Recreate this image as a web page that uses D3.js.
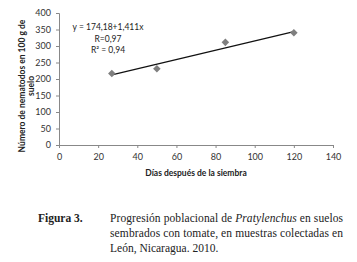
<!DOCTYPE html>
<html>
<head>
<meta charset="utf-8">
<script src="https://cdn.jsdelivr.net/npm/d3@7"></script>
<style>
  body { margin: 0; background: #fff; }
  .cap { font-family: 'Liberation Serif', 'DejaVu Serif', serif; font-size: 11.5px; fill: #222; }
</style>
</head>
<body>
<div id="chart"></div>
<script>
// data
const dias = [27, 50, 85, 120]
const nematodos = [217, 231, 311, 340]
const xTicks = [0, 20, 40, 60, 80, 100, 120, 140]
const yTicks = [0, 50, 100, 150, 200, 250, 300, 350, 400]
const intercept = 174.18
const slope = 1.411
const eqLines = ['y = 174,18+1,411x', 'R=0,97', 'R² = 0,94']

const W = 357, H = 262
const margin = {top: 13, left: 59, right: 24, bottom: 117}

const svg = d3.select('#chart').append('svg')
    .attr('width', W)
    .attr('height', H)

const x = d3.scaleLinear().domain([0, 140]).range([margin.left, W - margin.right])
const y = d3.scaleLinear().domain([0, 400]).range([H - margin.bottom, margin.top])

const font = "Lato, 'Open Sans', sans-serif"

// axes
const xAxis = svg.append('g')
    .attr('transform', `translate(0, ${y(0)})`)
    .call(d3.axisBottom(x).tickValues(xTicks).tickSize(3).tickPadding(6))
const yAxis = svg.append('g')
    .attr('transform', `translate(${x(0)}, 0)`)
    .call(d3.axisLeft(y).tickValues(yTicks).tickSize(3).tickPadding(5))

;[xAxis, yAxis].forEach(a => {
    a.select('.domain').attr('stroke', '#888')
    a.selectAll('.tick line').attr('stroke', '#888')
    a.selectAll('.tick text').attr('fill', '#333').style('font-family', font).style('font-size', '9px')
})

// regression line
const line = d3.line().x(d => x(d)).y(d => y(intercept + slope * d))
svg.append('path')
    .attr('d', line([dias[0], dias[dias.length - 1]]))
    .attr('stroke', '#111')
    .attr('stroke-width', 1.2)
    .attr('fill', 'none')

// points
svg.selectAll('.pt')
    .data(dias)
    .join('path')
    .attr('class', 'pt')
    .attr('d', d3.symbol(d3.symbolDiamond2, 36))
    .attr('transform', (d, i) => `translate(${x(d)}, ${y(nematodos[i])})`)
    .attr('fill', '#7f7f7f')

// equation
svg.append('text')
    .attr('x', 108)
    .attr('y', 30)
    .attr('text-anchor', 'middle')
    .style('font-family', font)
    .style('font-size', '8.5px')
    .attr('fill', '#222')
    .selectAll('tspan')
    .data(eqLines)
    .join('tspan')
    .attr('x', 108)
    .attr('dy', (d, i) => i === 0 ? 0 : 11.5)
    .text(d => d)

// axis titles
svg.append('text')
    .attr('x', x(70))
    .attr('y', 176)
    .attr('text-anchor', 'middle')
    .style('font-family', font)
    .style('font-size', '8.5px')
    .style('font-weight', 'bold')
    .attr('fill', '#222')
    .text('Días después de la siembra')

const yt = svg.append('text')
    .attr('transform', 'translate(25, 86) rotate(-90)')
    .attr('text-anchor', 'middle')
    .style('font-family', font)
    .style('font-size', '8.5px')
    .style('font-weight', 'bold')
    .attr('fill', '#222')
yt.append('tspan').attr('x', 0).attr('y', 0).text('Número de nematodos en 100 g de')
yt.append('tspan').attr('x', 0).attr('y', 9).text('suelo')

// caption
const cap = svg.append('g')
cap.append('text').attr('class', 'cap').attr('x', 38).attr('y', 222)
    .style('font-weight', 'bold').text('Figura 3.')
const c1 = cap.append('text').attr('class', 'cap').attr('x', 110).attr('y', 222)
    .attr('textLength', 233).attr('lengthAdjust', 'spacing')
c1.append('tspan').text('Progresión poblacional de ')
c1.append('tspan').style('font-style', 'italic').text('Pratylenchus')
c1.append('tspan').text(' en suelos')
cap.append('text').attr('class', 'cap').attr('x', 110).attr('y', 237)
    .attr('textLength', 233).attr('lengthAdjust', 'spacing')
    .text('sembrados con tomate, en muestras colectadas en')
cap.append('text').attr('class', 'cap').attr('x', 110).attr('y', 252)
    .text('León, Nicaragua. 2010.')
</script>
</body>
</html>
